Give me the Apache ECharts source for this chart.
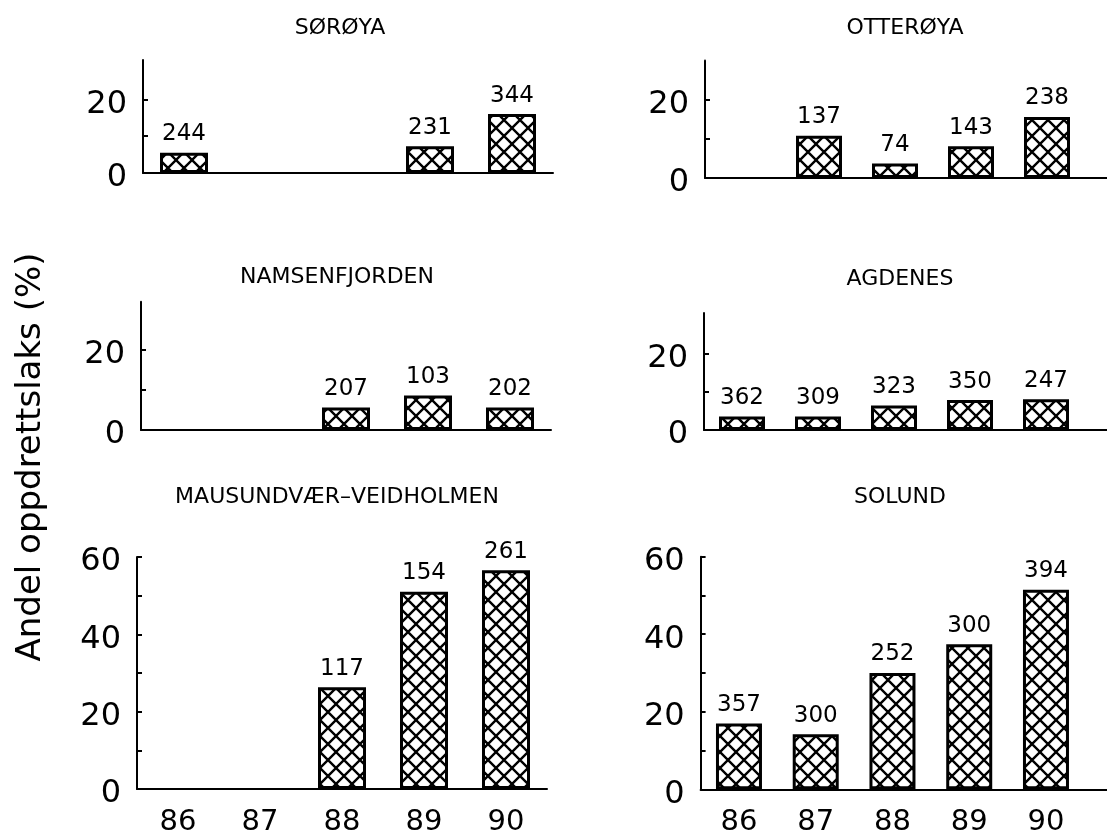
<!DOCTYPE html>
<html>
<head>
<meta charset="utf-8">
<script src="https://cdn.jsdelivr.net/npm/echarts@6/dist/echarts.min.js"></script>
<style>
  html, body { margin: 0; padding: 0; background: #fff; }
  #main { width: 1107px; height: 839px; }
</style>
</head>
<body>
<div id="main"></div>
<script>
// år (x-akse)
var years = [86, 87, 88, 89, 90];
var sites = ['SØRØYA', 'OTTERØYA', 'NAMSENFJORDEN', 'AGDENES', 'MAUSUNDVÆR–VEIDHOLMEN', 'SOLUND'];

// andel oppdrettslaks (%) per år, null = ingen data
var soroya    = [5.5, null, null, 7.3, 16.0];
var otteroya  = [null, 10.8, 3.7, 8.1, 15.6];
var namsen    = [null, null, 5.6, 8.6, 5.6];
var agdenes   = [3.5, 3.5, 6.4, 7.8, 8.0];
var mausund   = [null, null, 26.3, 51.0, 56.6];
var solund    = [17.0, 14.2, 30.0, 37.4, 51.5];

// antall fisk undersøkt (tall over søylene)
var soroyaN   = [244, null, null, 231, 344];
var otteroyaN = [null, 137, 74, 143, 238];
var namsenN   = [null, null, 207, 103, 202];
var agdenesN  = [362, 309, 323, 350, 247];
var mausundN  = [null, null, 117, 154, 261];
var solundN   = [357, 300, 252, 300, 394];

// y-akse: tall og merker
var yLabelsTop = [0, 20];
var yTicksTop = [10, 20];
var yLabelsBottom = [0, 20, 40, 60];
var yTicksBottom = [10, 20, 30, 40, 50, 60];

var values = [soroya, otteroya, namsen, agdenes, mausund, solund];
var counts = [soroyaN, otteroyaN, namsenN, agdenesN, mausundN, solundN];

// plassering av panelene (px)
var panels = [
    {left: 143,   top: 60,    width: 410,   height: 113,   band: 82,    ymax: 30.7, bottom: false, tx: 340, ty: 27},
    {left: 705,   top: 60.5,  width: 402,   height: 117.5, band: 76,    ymax: 30,   bottom: false, tx: 905, ty: 27},
    {left: 141,   top: 301.7, width: 410,   height: 128.3, band: 82,    ymax: 32,   bottom: false, tx: 337, ty: 276},
    {left: 704,   top: 313,   width: 403,   height: 117,   band: 76,    ymax: 30.5, bottom: false, tx: 900, ty: 278},
    {left: 137,   top: 557,   width: 410,   height: 232,   band: 82,    ymax: 60,   bottom: true,  tx: 337, ty: 496},
    {left: 700.6, top: 556.7, width: 406.4, height: 232.6, band: 76.75, ymax: 60,   bottom: true,  tx: 900, ty: 496}
];

// kryssskravering
function makeHatch(){
    var s = 16;
    var c = document.createElement('canvas');
    c.width = s; c.height = s;
    var g = c.getContext('2d');
    g.fillStyle = '#fff';
    g.fillRect(0, 0, s, s);
    g.strokeStyle = '#000';
    g.lineWidth = 2.4;
    g.beginPath();
    for(var k = -s; k <= s; k += s){
        g.moveTo(k, 0); g.lineTo(k + s, s);
        g.moveTo(k + s, 0); g.lineTo(k, s);
    }
    g.stroke();
    return c;
}
var hatch = makeHatch();

var font = 'DejaVu Sans';
var grids = [], xAxes = [], yAxes = [], series = [], titles = [];

for(var i = 0; i < panels.length; i++){
    var p = panels[i];
    grids.push({left: p.left, top: p.top, width: p.width, height: p.height, containLabel: false, outerBoundsMode: 'none'});
    titles.push({
        text: sites[i], left: p.tx, top: p.ty - 10, textAlign: 'center', padding: 0,
        textStyle: {fontFamily: font, fontSize: 22, fontWeight: 'normal', color: '#000'}
    });
    xAxes.push({
        type: 'value', gridIndex: i, min: 85.5, max: 85.5 + p.width / p.band,
        axisLine: {show: true, onZero: true, lineStyle: {color: '#000', width: 2}},
        axisTick: {show: false},
        splitLine: {show: false},
        axisLabel: {
            show: p.bottom, customValues: years, margin: 19,
            fontSize: 29, fontFamily: font, color: '#000'
        }
    });
    yAxes.push({
        type: 'value', gridIndex: i, min: 0, max: p.ymax,
        axisLine: {show: true, lineStyle: {color: '#000', width: 2}},
        axisTick: {show: true, inside: true, length: 5, customValues: p.bottom ? yTicksBottom : yTicksTop,
                   lineStyle: {color: '#000', width: 2}},
        splitLine: {show: false},
        axisLabel: {
            customValues: p.bottom ? yLabelsBottom : yLabelsTop,
            margin: 16, verticalAlign: 'top', lineHeight: 10,
            fontSize: 32, fontFamily: font, color: '#000'
        }
    });

    var data = [];
    for(var j = 0; j < years.length; j++){
        if(values[i][j] != null){
            data.push([years[j], values[i][j], counts[i][j]]);
        }
    }
    series.push({
        type: 'bar', xAxisIndex: i, yAxisIndex: i,
        barWidth: i % 2 == 0 ? 48 : 46,
        data: data,
        itemStyle: {color: {image: hatch, repeat: 'repeat'}, borderColor: '#000', borderWidth: 3},
        label: {
            show: true, position: 'top', distance: 7,
            fontSize: 23, fontFamily: font, color: '#000',
            formatter: function(d){ return d.value[2]; }
        },
        emphasis: {disabled: true},
        silent: true
    });
}

var myChart = echarts.init(document.getElementById('main'));
var option = {
    backgroundColor: '#fff',
    animation: false,
    title: titles,
    grid: grids,
    xAxis: xAxes,
    yAxis: yAxes,
    series: series,
    graphic: [{
        type: 'text', x: 31, y: 457, rotation: Math.PI / 2,
        style: {text: 'Andel oppdrettslaks (%)', fontFamily: font, fontSize: 34, fill: '#000', textAlign: 'center', textVerticalAlign: 'middle'}
    }]
};
myChart.setOption(option);
</script>
</body>
</html>
